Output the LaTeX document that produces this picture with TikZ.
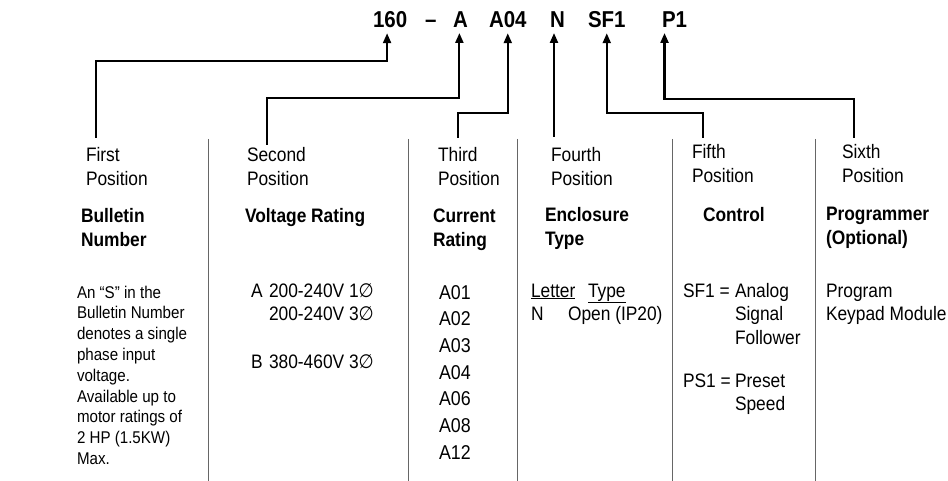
\documentclass[tikz,border=0pt]{standalone}
\usepackage{fontspec}
\setmainfont{Liberation Sans}[FakeStretch=0.89]
\newfontfamily\symfont{DejaVu Sans}[FakeStretch=0.89]
\usetikzlibrary{arrows.meta}
\newcommand{\ph}{{\symfont ∅}}
\begin{document}
\begin{tikzpicture}[x=1pt,y=-1pt, inner sep=0pt, outer sep=0pt,
 codetxt/.style={font=\fontsize{23}{26}\selectfont\bfseries, anchor=base west},
 poslab/.style={font=\fontsize{19.5}{24}\selectfont, align=left, anchor=base west},
 headlab/.style={font=\fontsize{19.5}{24}\selectfont\bfseries, align=left, anchor=base west},
 bodytxt/.style={font=\fontsize{19.5}{23.5}\selectfont, align=left, anchor=base west},
 smalltxt/.style={font=\fontsize{17}{20.8}\selectfont, align=left, anchor=base west},
 alist/.style={font=\fontsize{20}{26.7}\selectfont, align=left, anchor=base west},
 conn/.style={line width=2.2pt, -{Triangle[length=10pt,width=8pt]}},
 sepline/.style={line width=1pt, draw=black!60}]
\useasboundingbox (0,0) rectangle (948,481);

% code (anchored at baseline)
\node[codetxt] (c1) at (373,28) {160};
\node[codetxt] (cd) at (425,28) {–};
\node[codetxt] (c2) at (453,28) {A};
\node[codetxt] (c3) at (489,28) {A04};
\node[codetxt] (c4) at (550,28) {N};
\node[codetxt] (c5) at (588,28) {SF1};
\node[codetxt] (c6) at (662,28) {P1};

% separators
\draw[sepline] (208,139) -- (208,481);
\draw[sepline] (408,139) -- (408,481);
\draw[sepline] (517,139) -- (517,481);
\draw[sepline] (672,139) -- (672,481);
\draw[sepline] (815,139) -- (815,481);

% position labels (anchored at last baseline)
\node[poslab] (p1) at (86,186) {First\\Position};
\node[poslab] (p2) at (247,186) {Second\\Position};
\node[poslab] (p3) at (438,186) {Third\\Position};
\node[poslab] (p4) at (551,186) {Fourth\\Position};
\node[poslab] (p5) at (692,183) {Fifth\\Position};
\node[poslab] (p6) at (842,183) {Sixth\\Position};

% headings
\node[headlab] (h1) at (81,247) {Bulletin\\Number};
\node[headlab] (h2) at (245,223) {Voltage Rating};
\node[headlab] (h3) at (433,247) {Current\\Rating};
\node[headlab] (h4) at (545,246) {Enclosure\\Type};
\node[headlab] (h5) at (703,222) {Control};
\node[headlab] (h6) at (826,244) {Programmer\\(Optional)};

% column 1
\node[smalltxt] (b1) at (77,464.4) {An “S” in the\\Bulletin Number\\denotes a single\\phase input\\voltage.\\Available up to\\motor ratings of\\2 HP (1.5KW)\\Max.};

% column 2
\node[bodytxt] (v1l) at (251,297) {A};
\node[bodytxt] (v1) at (269,320.5) {200-240V 1\ph\\200-240V 3\ph};
\node[bodytxt] (v2l) at (251,368) {B};
\node[bodytxt] (v2) at (269,368) {380-460V 3\ph};

% column 3
\node[alist] (a1) at (439,459.2) {A01\\A02\\A03\\A04\\A06\\A08\\A12};

% column 4
\node[bodytxt] (e1) at (531,297) {\underline{Letter}};
\node[bodytxt] (e2) at (588,297) {\underline{Type}};
\node[bodytxt] (e3) at (531,320) {N};
\node[bodytxt] (e4) at (568,320) {Open (IP20)};

% column 5
\node[bodytxt] (k1) at (683,297) {SF1 =};
\node[bodytxt] (k2) at (735,344) {Analog\\Signal\\Follower};
\node[bodytxt] (k3) at (683,387) {PS1 =};
\node[bodytxt] (k4) at (735,410.5) {Preset\\Speed};

% column 6
\node[bodytxt] (g1) at (826,320.5) {Program\\Keypad Module};

% connector start points
\coordinate (s1) at (96,138);
\coordinate (s2) at (267,145);
\coordinate (s3) at (458,138);
\coordinate (s4) at (554,137);
\coordinate (s5) at (703,138);
\coordinate (s6) at (854,138);

\draw[conn] (s1) -- (s1 |- 0,61) -| ([xshift=-3pt,yshift=-5pt]c1.south);
\draw[conn] (s2) -- (s2 |- 0,98) -| ([xshift=-1pt,yshift=-5pt]c2.south);
\draw[conn] (s3) -- (s3 |- 0,113) -| ([xshift=0pt,yshift=-5pt]c3.south);
\draw[conn] (s4) -- (s4 |- 0,33);
\draw[conn] (s5) -- (s5 |- 0,113) -| ([xshift=0pt,yshift=-5pt]c5.south);
\draw[conn] (s6) -- (s6 |- 0,99) -| ([xshift=-10pt,yshift=-5pt]c6.south);
\end{tikzpicture}
\end{document}
